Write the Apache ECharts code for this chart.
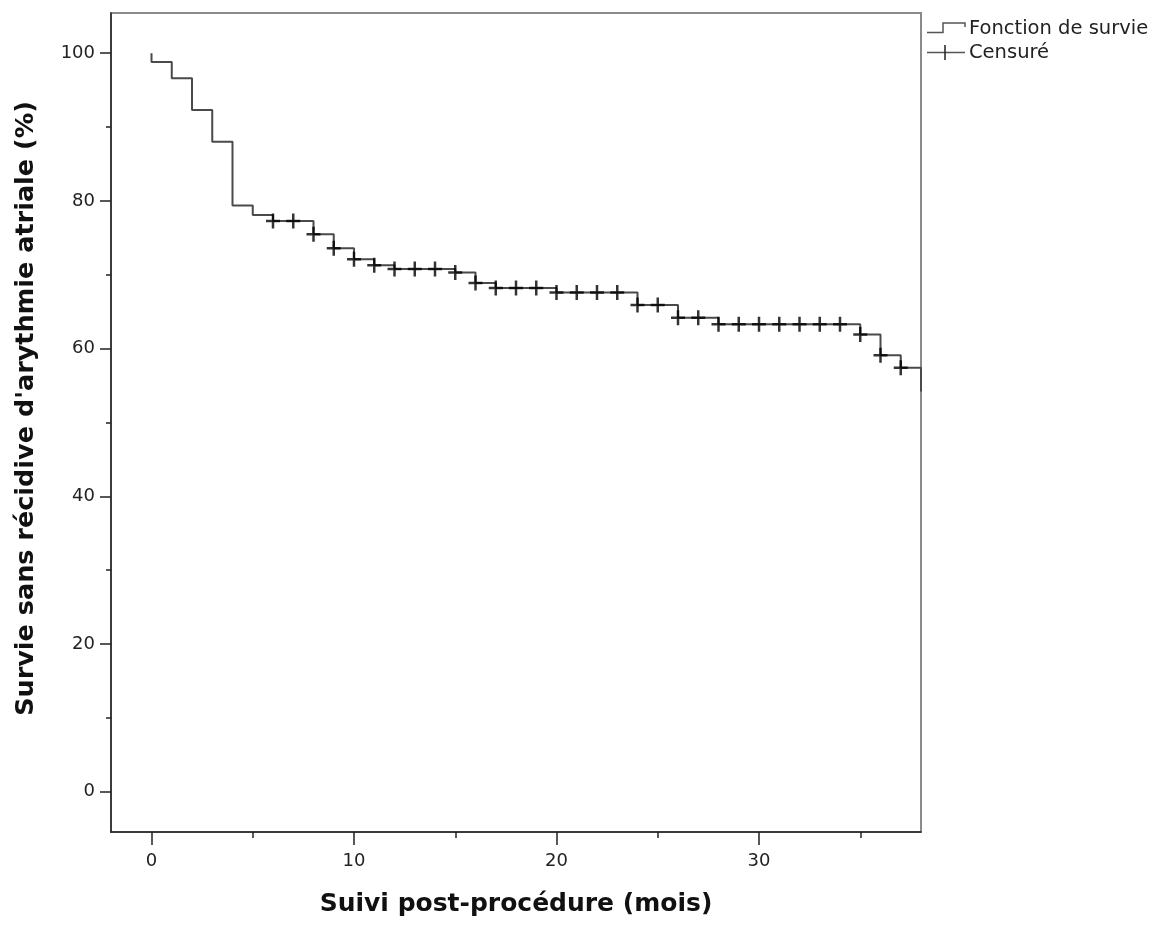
<!DOCTYPE html>
<html>
<head>
<meta charset="utf-8">
<title>Survie sans récidive</title>
<script src="https://cdn.jsdelivr.net/npm/echarts@6/dist/echarts.min.js"></script>
<style>
  html, body { margin: 0; padding: 0; background: #fff; }
  #chart { width: 1159px; height: 928px; }
</style>
</head>
<body>
<div id="chart"></div>
<script>
// Kaplan-Meier steps (mois, %)
var stepTimes = [0, 0, 1, 2, 3, 4, 5, 6, 8, 9, 10, 11, 12, 15, 16, 17, 20, 24, 26, 28, 35, 36, 37, 38];
var stepValues = [100, 98.8, 96.6, 92.3, 88.0, 79.4, 78.1, 77.3, 75.5, 73.6, 72.1, 71.3, 70.8, 70.3, 68.9, 68.2, 67.6, 65.9, 64.2, 63.3, 61.9, 59.1, 57.4, 54.2];

// censored observations
var censorTimes = [6, 7, 8, 9, 10, 11, 12, 13, 14, 15, 16, 17, 18, 19, 20, 21, 22, 23, 24, 25, 26, 27, 28, 29, 30, 31, 32, 33, 34, 35, 36, 37];
var censorValues = [77.3, 77.3, 75.5, 73.6, 72.1, 71.3, 70.8, 70.8, 70.8, 70.3, 68.9, 68.2, 68.2, 68.2, 67.6, 67.6, 67.6, 67.6, 65.9, 65.9, 64.2, 64.2, 63.3, 63.3, 63.3, 63.3, 63.3, 63.3, 63.3, 61.9, 59.1, 57.4];

var xTicks = [0, 10, 20, 30];
var xMinorTicks = [5, 15, 25, 35];
var yTicks = [0, 20, 40, 60, 80, 100];
var yMinorTicks = [10, 30, 50, 70, 90];

var FONT = 'DejaVu Sans';
var plusSymbol = 'path://M5.75,0h2.5v15h-2.5z M0,6.25h14v2.5h-14z';

function zip(a, b) {
    return a.map(function (v, i) { return [v, b[i]]; });
}

function getOption() {
    var xBase = {
        type: 'value',
        position: 'bottom',
        min: -2,
        max: 38,
        splitLine: { show: false }
    };
    var yBase = {
        type: 'value',
        position: 'left',
        min: -5.45,
        max: 105.45,
        splitLine: { show: false }
    };
    return {
        animation: false,
        grid: {
            left: 111,
            right: 238,
            top: 13,
            bottom: 96,
            show: true,
            borderColor: '#8a8a8a',
            borderWidth: 2
        },
        xAxis: [
            Object.assign({}, xBase, {
                name: 'Suivi post-procédure (mois)',
                nameLocation: 'middle',
                nameGap: 60,
                nameTextStyle: { fontFamily: FONT, fontWeight: 'bold', fontSize: 25, color: '#111' },
                axisLine: { show: true, onZero: false, lineStyle: { color: '#222', width: 1.5 } },
                axisTick: { show: true, customValues: xTicks, length: 13, lineStyle: { color: '#222', width: 1.5 } },
                axisLabel: { customValues: xTicks, margin: 20, fontFamily: FONT, fontSize: 18, color: '#222' }
            }),
            Object.assign({}, xBase, {
                axisLine: { show: false, onZero: false },
                axisTick: { show: true, customValues: xMinorTicks, length: 6, lineStyle: { color: '#222', width: 1.5 } },
                axisLabel: { show: false }
            })
        ],
        yAxis: [
            Object.assign({}, yBase, {
                name: "Survie sans récidive d'arythmie atriale (%)",
                nameLocation: 'middle',
                nameGap: 72,
                nameTextStyle: { fontFamily: FONT, fontWeight: 'bold', fontSize: 25.5, color: '#111', padding: [0, 0, 0, 28] },
                axisLine: { show: true, onZero: false, lineStyle: { color: '#222', width: 1.5 } },
                axisTick: { show: true, customValues: yTicks, length: 11, lineStyle: { color: '#222', width: 1.5 } },
                axisLabel: { customValues: yTicks, margin: 16, fontFamily: FONT, fontSize: 18, color: '#222' }
            }),
            Object.assign({}, yBase, {
                axisLine: { show: false, onZero: false },
                axisTick: { show: true, customValues: yMinorTicks, length: 5, lineStyle: { color: '#222', width: 1.5 } },
                axisLabel: { show: false }
            })
        ],
        series: [{
            name: 'Fonction de survie',
            type: 'line',
            step: 'end',
            data: zip(stepTimes, stepValues),
            showSymbol: false,
            lineStyle: { color: '#4a4a4a', width: 2 },
            z: 2
        }, {
            name: 'Censuré',
            type: 'scatter',
            data: zip(censorTimes, censorValues),
            symbol: plusSymbol,
            symbolSize: [14, 15],
            itemStyle: { color: '#000' },
            z: 3
        }],
        graphic: [
            // legend, drawn by hand to copy the SPSS look
            { type: 'polyline', shape: { points: [[927, 32.5], [943, 32.5], [943, 23], [965, 23], [965, 27]] }, style: { stroke: '#555', lineWidth: 1.5, fill: null } },
            { type: 'text', left: 969, top: 19, style: { text: 'Fonction de survie', font: '19.5px "DejaVu Sans"', fill: '#222' } },
            { type: 'line', shape: { x1: 927, y1: 52.5, x2: 965, y2: 52.5 }, style: { stroke: '#555', lineWidth: 1.5 } },
            { type: 'line', shape: { x1: 945, y1: 45, x2: 945, y2: 60 }, style: { stroke: '#222', lineWidth: 1.5 } },
            { type: 'text', left: 969, top: 43, style: { text: 'Censuré', font: '19.5px "DejaVu Sans"', fill: '#222' } }
        ]
    };
}

var myChart = echarts.init(document.getElementById('chart'), null, { renderer: 'canvas' });
myChart.setOption(getOption());
</script>
</body>
</html>
